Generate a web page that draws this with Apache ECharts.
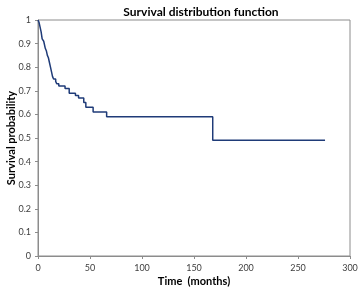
<!DOCTYPE html>
<html><head><meta charset="utf-8">
<script src="https://cdn.jsdelivr.net/npm/echarts@6/dist/echarts.min.js"></script>
<style>html,body{margin:0;padding:0;background:#fff}#c{width:358px;height:289px}</style>
</head><body><div id="c"></div>
<script>
const titleText = "Survival distribution function";
const xName = "Time  (months)";
const yName = "Survival probability";
const times =    [0,   1,    2,    3,    4,    5.5,  7,    8,    9,    10,   11,   12,   13,   14,   15,   17,   18,   20,   26,   30,   36,   39,   44,   46,   53,   66,   168,  276];
const survival = [1.0, 0.99, 0.97, 0.95, 0.92, 0.91, 0.88, 0.87, 0.85, 0.84, 0.82, 0.80, 0.78, 0.76, 0.75, 0.74, 0.73, 0.72, 0.71, 0.69, 0.68, 0.67, 0.65, 0.63, 0.61, 0.59, 0.49, 0.49];
const xTicks = [0, 50, 100, 150, 200, 250, 300];
const yTicks = [0, 0.1, 0.2, 0.3, 0.4, 0.5, 0.6, 0.7, 0.8, 0.9, 1];

const ff = "Lato, 'Open Sans', sans-serif";
const chart = echarts.init(document.getElementById('c'));
chart.setOption({
  animation: false,
  title: { text: titleText, left: 196, top: 1, textAlign: 'center',
    textStyle: { fontFamily: ff, fontSize: 12, fontWeight: 'bold', color: '#000' } },
  grid: { left: 38, right: 8, top: 20, bottom: 33, show: true, borderColor: '#8c8c8c', borderWidth: 1,
    containLabel: false, outerBoundsMode: 'none' },
  xAxis: { type: 'value', min: xTicks[0], max: xTicks[xTicks.length-1], interval: 50,
    name: xName, nameLocation: 'middle', nameGap: 20, nameMoveOverlap: false,
    nameTextStyle: { fontFamily: ff, fontSize: 11, fontWeight: 'bold', color: '#000' },
    axisLine: { lineStyle: { color: '#8c8c8c' } },
    axisTick: { show: true, length: 3, lineStyle: { color: '#8c8c8c' } },
    axisLabel: { fontFamily: ff, fontSize: 9, color: '#404040', margin: 8 },
    splitLine: { show: false } },
  yAxis: { type: 'value', min: yTicks[0], max: yTicks[yTicks.length-1], interval: 0.1,
    name: yName, nameLocation: 'middle', nameGap: 21, nameMoveOverlap: false,
    nameTextStyle: { fontFamily: ff, fontSize: 11, fontWeight: 'bold', color: '#000' },
    axisLine: { show: true, lineStyle: { color: '#8c8c8c' } },
    axisTick: { show: true, length: 3, lineStyle: { color: '#8c8c8c' } },
    axisLabel: { fontFamily: ff, fontSize: 9, color: '#404040', margin: 7,
      formatter: v => String(Math.round(v*10)/10) },
    splitLine: { show: false } },
  series: [{ type: 'line', step: 'end', symbol: 'none',
    data: times.map((t, i) => [t, survival[i]]),
    lineStyle: { color: '#1f3b78', width: 1.5 } }]
});
</script></body></html>
